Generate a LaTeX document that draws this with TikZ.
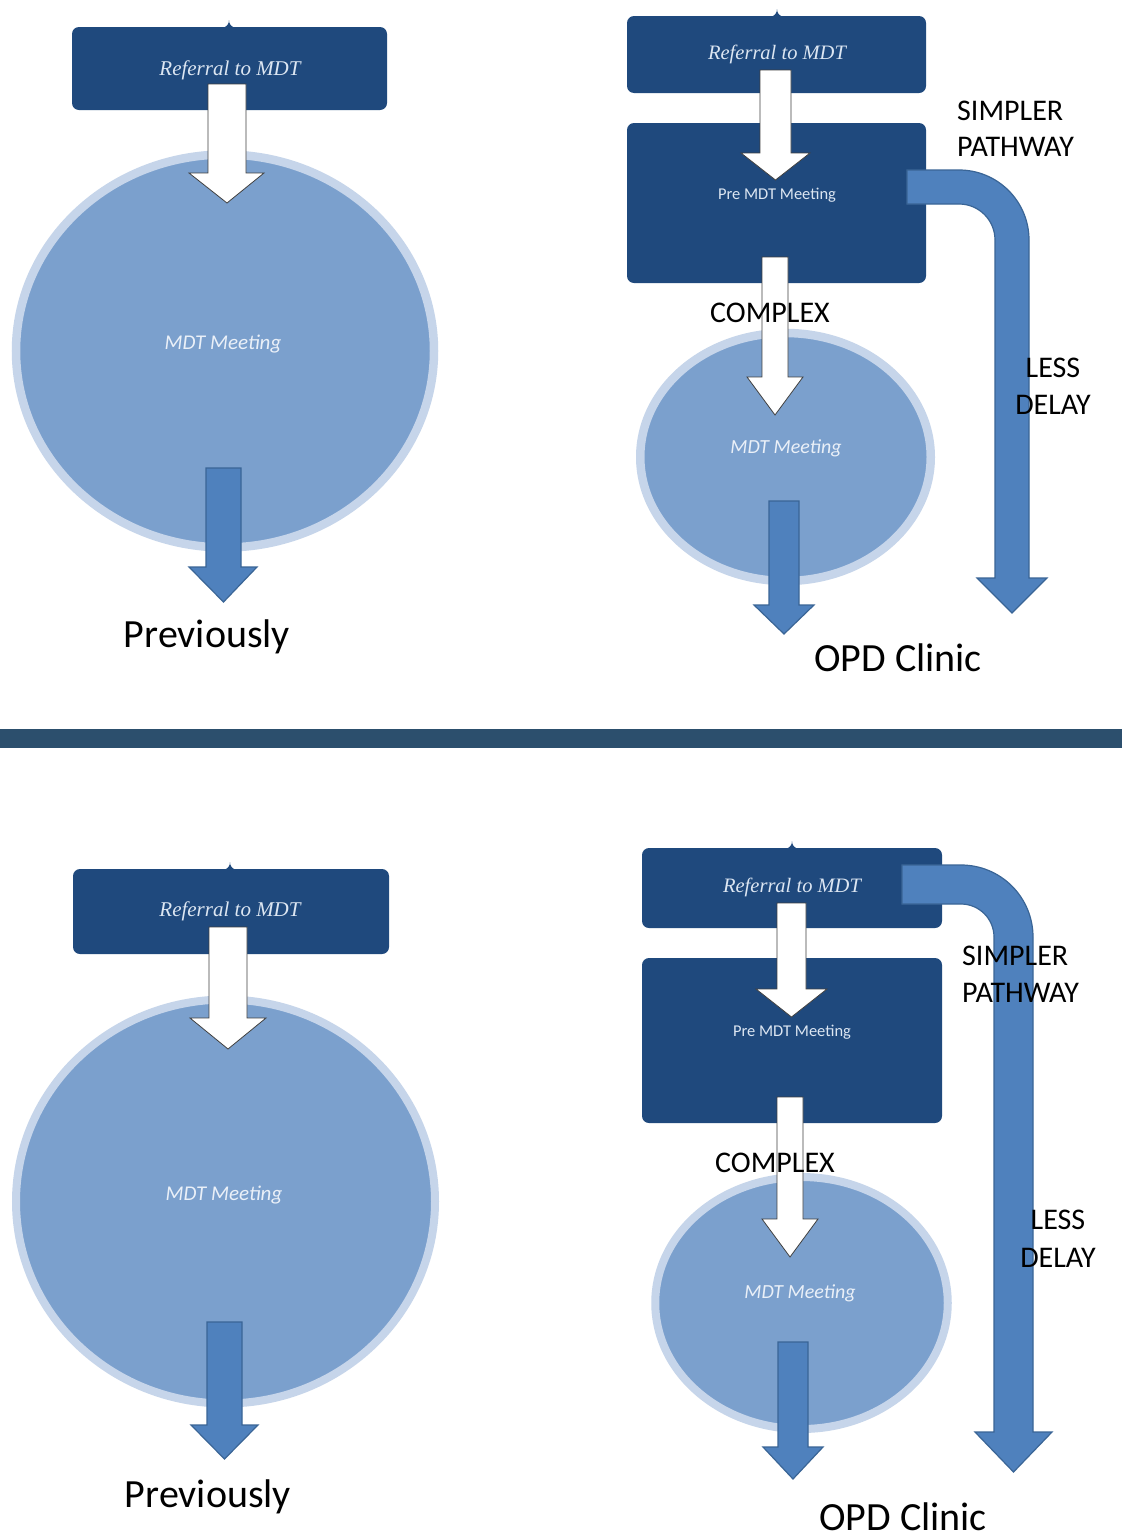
\documentclass[tikz,border=0pt]{standalone}
\usepackage{fontspec}
\setmainfont{Carlito}
\newfontfamily\refserif{Liberation Serif}
\usetikzlibrary{shapes.geometric}
\definecolor{boxblue}{HTML}{1F497D}
\definecolor{ringcol}{HTML}{C6D5EA}
\definecolor{ellfill}{HTML}{7BA0CD}
\definecolor{arrowblue}{HTML}{4F81BD}
\definecolor{arrowedge}{HTML}{3A6596}
\definecolor{whiteedge}{HTML}{404040}
\definecolor{sepcol}{HTML}{2C4F6D}
\definecolor{boxtext}{HTML}{DCE6F2}
\definecolor{meettext}{HTML}{EAF0F8}
\newcommand{\blockarrow}[8]{%
  \draw[#1] (#2,#4) -- (#3,#4) -- (#3,#5) -- (#7,#5) -- ({(#2+#3)/2},#8) -- (#6,#5) -- (#2,#5) -- cycle;}
\newcommand{\notch}[2]{%
  \fill[boxblue] ({#1-7},{#2+1}) .. controls ({#1-2},#2) and (#1,{#2-3}) .. (#1,{#2-7})
    .. controls (#1,{#2-3}) and ({#1+2},#2) .. ({#1+7},{#2+1}) -- cycle;}
\tikzset{
  darkbox/.style={fill=boxblue, rounded corners=7pt, inner sep=0pt, outer sep=0pt},
  meetell/.style={ellipse, fill=ellfill, draw=ringcol, inner sep=0pt},
  whitearr/.style={fill=white, draw=whiteedge, line width=0.8pt, line join=miter},
  bluearr/.style={fill=arrowblue, draw=arrowedge, line width=1.2pt, line join=miter},
  reftext/.style={text=boxtext, font=\refserif\itshape\fontsize{21}{24}\selectfont, inner sep=0pt},
  meettxt/.style={text=meettext, font=\itshape\fontsize{21}{24}\selectfont, inner sep=0pt},
  pretxt/.style={text=boxtext, font=\fontsize{16.5}{20}\selectfont, inner sep=0pt},
  bigtxt/.style={text=black, font=\fontsize{40}{48}\selectfont, inner sep=0pt, anchor=base},
  midtxt/.style={text=black, font=\fontsize{30}{37}\selectfont, inner sep=0pt},
}
\begin{document}
\begin{tikzpicture}[x=1pt,y=-1pt]
\useasboundingbox (0,0) rectangle (1122,1537);
\fill[white] (0,0) rectangle (1122,1537);

% ===== TOP LEFT =====
\node[darkbox, minimum width=315pt, minimum height=83pt] (tlref) at (229.5,68.5) {};
\notch{229}{27}
\node[meetell, line width=8.5pt, minimum width=418pt, minimum height=393pt] (tlmdt) at (225,351) {};
\blockarrow{whitearr}{208}{246}{84}{173}{189}{264}{203}
\blockarrow{bluearr}{206}{241}{468}{567}{189}{257}{602}
\node[reftext] (tlreft) at (230,70) {Referral to MDT};
\node[meettxt] (tlmdtt) at (223,344) {MDT Meeting};
\node[bigtxt] (tlprev) at (207,647) {Previously};

% ===== TOP RIGHT =====
\node[darkbox, minimum width=299pt, minimum height=77pt] (trref) at (776.5,54.5) {};
\notch{777}{16}
\node[darkbox, minimum width=299pt, minimum height=160pt] (trpre) at (776.5,203) {};
\node[meetell, line width=8.5pt, minimum width=290.5pt, minimum height=248pt] (trmdt) at (785.5,457) {};
\blockarrow{whitearr}{760}{791}{70}{153}{741}{810}{180}
\blockarrow{whitearr}{762}{788}{257}{377}{747}{803}{415}
\blockarrow{bluearr}{769}{799}{501}{605}{754}{814}{634}
\draw[bluearr] (907,170) -- (959,170) .. controls (997.7,170) and (1029,201.3) .. (1029,240)
  -- (1029,578) -- (1047,578) -- (1012,613) -- (977,578) -- (995,578) -- (995,240)
  .. controls (995,220.1) and (978.9,204) .. (959,204) -- (907,204) -- cycle;
\node[reftext, font=\refserif\itshape\fontsize{20.5}{24}\selectfont] (trreft) at (777,54) {Referral to MDT};
\node[pretxt] (trpret) at (777,195) {Pre MDT Meeting};
\node[meettxt, font=\itshape\fontsize{20}{24}\selectfont] (trmdtt) at (786,448) {MDT Meeting};
\node[midtxt, anchor=base] (trcomp) at (770,322) {COMPLEX};
\node[midtxt, anchor=base west, align=left] (trsimp) at (957,156) {SIMPLER\\[-1pt]PATHWAY};
\node[midtxt, anchor=base, align=center] (trless) at (1053,414) {LESS\\[0pt]DELAY};
\node[bigtxt] (tropd) at (898,671) {OPD Clinic};

% ===== SEPARATOR =====
\fill[sepcol] (0,729) rectangle (1122,748);
\node[inner sep=0pt, minimum width=1122pt, minimum height=19pt] (sep) at (561,738.5) {};

% ===== BOTTOM LEFT =====
\node[darkbox, minimum width=316pt, minimum height=85pt] (blref) at (231,911.5) {};
\notch{230}{869}
\node[meetell, line width=8pt, minimum width=419pt, minimum height=404pt] (blmdt) at (225.5,1201.5) {};
\blockarrow{whitearr}{209}{247}{927}{1018}{190}{266}{1049}
\blockarrow{bluearr}{207}{242}{1322}{1425}{191}{258}{1459}
\node[reftext] (blreft) at (230,911) {Referral to MDT};
\node[meettxt] (blmdtt) at (224,1195) {MDT Meeting};
\node[bigtxt] (blprev) at (208,1507) {Previously};

% ===== BOTTOM RIGHT =====
\node[darkbox, minimum width=300pt, minimum height=80pt] (brref) at (792,888) {};
\notch{792}{848}
\node[darkbox, minimum width=300pt, minimum height=165pt] (brpre) at (792,1040.5) {};
\node[meetell, line width=8pt, minimum width=292.5pt, minimum height=252pt] (brmdt) at (801.5,1303) {};
\blockarrow{whitearr}{777}{806}{903}{989}{756}{827}{1017}
\blockarrow{whitearr}{777}{803}{1097}{1219}{762}{818}{1257}
\blockarrow{bluearr}{778}{808}{1342}{1447}{763}{823}{1479}
\draw[bluearr] (902,865) -- (961,865) .. controls (1000.8,865) and (1033,897.2) .. (1033,937)
  -- (1033,1432) -- (1052,1432) -- (1013.5,1472) -- (975,1432) -- (994,1432) -- (994,937)
  .. controls (994,918.8) and (979.2,904) .. (961,904) -- (902,904) -- cycle;
\node[reftext, font=\refserif\itshape\fontsize{20.5}{24}\selectfont] (brreft) at (792,887) {Referral to MDT};
\node[pretxt] (brpret) at (792,1032) {Pre MDT Meeting};
\node[meettxt, font=\itshape\fontsize{20}{24}\selectfont] (brmdtt) at (800,1293) {MDT Meeting};
\node[midtxt, anchor=base] (brcomp) at (775,1172) {COMPLEX};
\node[midtxt, anchor=base west, align=left] (brsimp) at (962,1002) {SIMPLER\\[0pt]PATHWAY};
\node[midtxt, anchor=base, align=center] (brless) at (1058,1267) {LESS\\[1pt]DELAY};
\node[bigtxt] (bropd) at (903,1530) {OPD Clinic};
\end{tikzpicture}
\end{document}
